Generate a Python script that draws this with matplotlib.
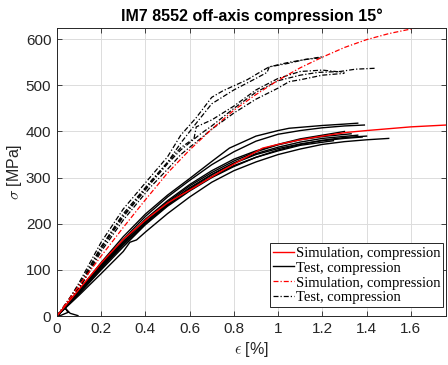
import matplotlib
matplotlib.use('Agg')
from matplotlib import pyplot as plt
from matplotlib.lines import Line2D
import numpy as np

# simulation curves (strain %, stress MPa)
sim_eps = [0, 0.1, 0.2, 0.3, 0.415, 0.5, 0.625, 0.75, 0.93, 1.0, 1.1, 1.2, 1.31, 1.4, 1.5, 1.6, 1.76]
sim_sig = [0, 58, 115, 166, 214, 245, 280, 316, 364, 372, 382, 390, 398, 402, 406, 410, 414]

sim15_eps = [0, 0.1, 0.2, 0.3, 0.4, 0.5, 0.6, 0.7, 0.8, 0.9, 1.0, 1.1, 1.2, 1.3, 1.4, 1.5, 1.62, 1.76]
sim15_sig = [0, 66, 130, 192, 252, 310, 360, 405, 446, 480, 511, 538, 561, 582, 599, 612, 624, 636]

# tests, solid
test_solid = [
    ([0, 0.1, 0.2, 0.3, 0.4, 0.5, 0.6, 0.7, 0.78, 0.9, 1.0, 1.05, 1.2, 1.3, 1.36],
     [0, 56, 116, 172, 221, 262, 298, 335, 364, 390, 402, 407, 413, 416, 418]),
    ([0, 0.1, 0.2, 0.3, 0.4, 0.5, 0.6, 0.7, 0.8, 0.9, 1.0, 1.1, 1.2, 1.3, 1.39],
     [0, 54, 112, 166, 216, 258, 294, 328, 356, 379, 394, 402, 408, 412, 414]),
    ([0, 0.1, 0.2, 0.3, 0.4, 0.5, 0.6, 0.7, 0.8, 0.9, 1.0, 1.1, 1.2, 1.3],
     [0, 52, 108, 160, 210, 250, 285, 315, 340, 358, 372, 384, 392, 400]),
    ([0, 0.1, 0.2, 0.3, 0.4, 0.5, 0.6, 0.7, 0.8, 0.9, 1.0, 1.1, 1.2, 1.36],
     [0, 50, 104, 156, 204, 244, 278, 307, 332, 352, 366, 377, 385, 392]),
    ([0, 0.1, 0.2, 0.3, 0.4, 0.5, 0.6, 0.7, 0.8, 0.9, 1.0, 1.1, 1.2, 1.33],
     [0, 53, 110, 162, 208, 247, 282, 311, 336, 356, 371, 382, 389, 395]),
    ([0, 0.1, 0.2, 0.3, 0.33, 0.36, 0.4, 0.5, 0.6, 0.7, 0.8, 0.9, 1.0, 1.1, 1.2, 1.3, 1.4, 1.5],
     [0, 45, 92, 140, 160, 165, 182, 222, 258, 290, 315, 334, 350, 362, 372, 378, 382, 385]),
    ([0, 0.1, 0.2, 0.3, 0.4, 0.5, 0.6, 0.7, 0.8, 0.9, 1.0, 1.1, 1.25],
     [0, 51, 106, 158, 203, 241, 274, 302, 326, 344, 358, 370, 380]),
    ([0, 0.1, 0.2, 0.3, 0.4, 0.5, 0.6, 0.7, 0.8, 0.9, 1.0, 1.1, 1.2, 1.3, 1.4],
     [0, 48, 100, 150, 198, 238, 271, 300, 324, 344, 360, 372, 381, 387, 390]),
    ([0, 0.1, 0.2, 0.3, 0.4, 0.5, 0.6, 0.7, 0.8, 0.9, 1.0, 1.1, 1.2, 1.3, 1.38],
     [0, 50, 103, 154, 200, 240, 276, 306, 331, 350, 363, 373, 380, 385, 388]),
    ([0, 0.02, 0.05, 0.04, 0.06, 0.095],
     [1, 2, 8, 16, 6, 1]),
]

# tests, dash-dot
test_dash = [
    ([0, 0.05, 0.1, 0.2, 0.3, 0.42, 0.5, 0.56, 0.63, 0.7, 0.75, 0.86, 0.93, 0.96, 1.05, 1.2],
     [0, 32, 72, 160, 232, 300, 345, 392, 430, 474, 488, 512, 532, 540, 550, 562]),
    ([0, 0.1, 0.2, 0.3, 0.42, 0.5, 0.56, 0.63, 0.7, 0.8, 0.9, 0.95, 0.96, 1.05, 1.12, 1.2],
     [0, 68, 150, 222, 290, 333, 375, 418, 460, 490, 515, 528, 540, 548, 556, 560]),
    ([0, 0.1, 0.2, 0.3, 0.42, 0.5, 0.56, 0.65, 0.7, 0.8, 0.9, 1.0, 1.1, 1.18, 1.28, 1.35, 1.44],
     [0, 60, 145, 215, 285, 330, 360, 395, 412, 450, 485, 510, 522, 528, 530, 535, 537]),
    ([0, 0.1, 0.2, 0.3, 0.42, 0.5, 0.56, 0.62, 0.63, 0.7, 0.8, 0.9, 1.0, 1.1, 1.2, 1.3],
     [0, 62, 150, 218, 288, 333, 365, 385, 410, 425, 455, 490, 515, 530, 533, 528]),
    ([0, 0.1, 0.2, 0.3, 0.42, 0.5, 0.56, 0.65, 0.7, 0.8, 0.9, 1.0, 1.05, 1.1, 1.2, 1.3],
     [0, 58, 140, 208, 278, 318, 350, 385, 405, 440, 470, 494, 508, 512, 522, 526]),
]

plt.rcParams['font.family'] = ['Liberation Sans', 'DejaVu Sans']
plt.rcParams['mathtext.fontset'] = 'cm'

dashdot = (0, (4, 1.6, 1, 1.6))

fig = plt.figure(figsize=(4.48, 3.65), dpi=100)
ax = fig.add_axes([0.127, 0.134, 0.869, 0.789])

for e, s in test_solid:
    ax.plot(e, s, color='k', lw=1.0)
for e, s in test_dash:
    ax.plot(e, s, color='k', lw=0.9, ls=dashdot)
ax.plot(sim_eps, sim_sig, color='r', lw=1.0)
ax.plot(sim15_eps, sim15_sig, color='r', lw=0.9, ls=dashdot)

ax.set_xlim(0, 1.76)
ax.set_ylim(0, 624)
ax.set_xticks(np.arange(0, 1.61, 0.2))
ax.set_xticklabels(['0', '0.2', '0.4', '0.6', '0.8', '1', '1.2', '1.4', '1.6'])
ax.set_yticks(np.arange(0, 601, 100))
ax.grid(True, color='#dcdcdc', lw=0.7)
ax.set_axisbelow(True)
ax.tick_params(direction='in', top=True, right=True, labelsize=11, colors='#262626',
               length=3.5, width=0.6, pad=4)
for sp in ax.spines.values():
    sp.set_color('#262626')
    sp.set_linewidth(0.7)

ax.set_xlabel(r'$\epsilon$ [%]', fontsize=11.5, color='#262626', labelpad=3)
ax.set_ylabel(r'$\sigma$ [MPa]', fontsize=11.5, color='#262626', labelpad=1)
ax.set_title('IM7 8552 off-axis compression 15°', fontsize=11.5, fontweight='bold', pad=5)

handles = [Line2D([], [], color='r', lw=1.0),
           Line2D([], [], color='k', lw=1.0),
           Line2D([], [], color='r', lw=0.9, ls=dashdot),
           Line2D([], [], color='k', lw=0.9, ls=dashdot)]
labels = ['Simulation, compression', 'Test, compression',
          'Simulation, compression', 'Test, compression']
leg = ax.legend(handles, labels, loc='lower right', bbox_to_anchor=(1.0, 0.02),
                prop={'family': 'Liberation Serif', 'size': 10.5},
                fancybox=False, framealpha=1, edgecolor='#262626',
                handlelength=1.4, handletextpad=0.15, borderpad=0.2,
                labelspacing=0.12, borderaxespad=0.2)
leg.get_frame().set_linewidth(0.7)

plt.savefig('out.png', dpi=100)
plt.close()
